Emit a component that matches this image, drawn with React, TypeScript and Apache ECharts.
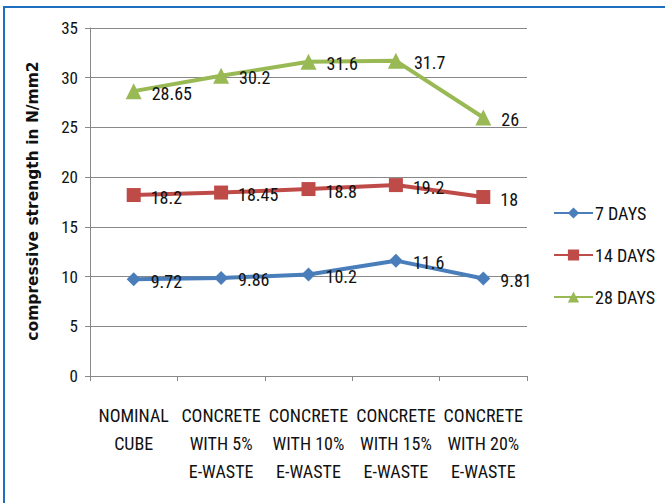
import React, { useEffect, useRef } from "react";
import * as echarts from "echarts";

const categories = [
  "NOMINAL\nCUBE",
  "CONCRETE\nWITH 5%\nE-WASTE",
  "CONCRETE\nWITH 10%\nE-WASTE",
  "CONCRETE\nWITH 15%\nE-WASTE",
  "CONCRETE\nWITH 20%\nE-WASTE",
];
const days7 = [9.72, 9.86, 10.2, 11.6, 9.81];
const days14 = [18.2, 18.45, 18.8, 19.2, 18];
const days28 = [28.65, 30.2, 31.6, 31.7, 26];
const yTicks = { min: 0, max: 35, interval: 5 };

const FONT = "'Liberation Sans Narrow', 'Roboto Condensed', 'Arial Narrow', sans-serif";

export default function App() {
  const ref = useRef<HTMLDivElement>(null);
  useEffect(() => {
    if (!ref.current) return;
    const chart = echarts.init(ref.current, undefined, { renderer: "svg" });
    const mk = (name: string, data: number[], color: string, symbol: string, size: number) => ({
      name,
      type: "line",
      data,
      symbol,
      symbolSize: size,
      lineStyle: { color, width: 4 },
      itemStyle: { color },
      label: {
        show: true,
        position: "right",
        distance: 10,
        color: "#111",
        fontFamily: FONT,
        fontSize: 18,
        offset: [0, 2],
      },
    });
    chart.setOption({
      animation: false,
      backgroundColor: "#fff",
      textStyle: { fontFamily: FONT },
      grid: { left: 90, right: 138, top: 28, bottom: 127, containLabel: false },
      legend: {
        orient: "vertical",
        left: 553,
        top: 204,
        padding: 0,
        itemWidth: 39,
        itemHeight: 14,
        itemGap: 24,
        textStyle: { fontFamily: FONT, fontSize: 18, color: "#111", padding: [0, 0, 0, -3] },
        data: ["7 DAYS", "14 DAYS", "28 DAYS"],
      },
      xAxis: {
        type: "category",
        data: categories,
        boundaryGap: true,
        axisLine: { lineStyle: { color: "#888", width: 1 } },
        axisTick: { show: true, length: 5, lineStyle: { color: "#888" } },
        axisLabel: {
          interval: 0,
          margin: 25,
          color: "#111",
          fontFamily: FONT,
          fontSize: 18,
          lineHeight: 28,
          align: "center",
        },
        splitLine: { show: false },
      },
      yAxis: {
        type: "value",
        min: yTicks.min,
        max: yTicks.max,
        interval: yTicks.interval,
        axisLine: { show: true, lineStyle: { color: "#888", width: 1 } },
        axisTick: { show: true, length: 5, lineStyle: { color: "#888" } },
        axisLabel: { color: "#111", fontFamily: FONT, fontSize: 17, margin: 12 },
        splitLine: { show: true, lineStyle: { color: "#888", width: 1 } },
      },
      graphic: [
        {
          type: "rect",
          shape: { x: 4, y: 7, width: 700, height: 600 },
          style: { fill: "none", stroke: "#1f6fc0", lineWidth: 2 },
          silent: true,
        },
        {
          type: "text",
          x: 33,
          y: 201,
          rotation: Math.PI / 2,
          style: {
            text: "compressive strength in N/mm2",
            fontFamily: "'DejaVu Sans', sans-serif",
            fontWeight: "bold",
            fontSize: 15.5,
            fill: "#111",
            align: "center",
            verticalAlign: "middle",
          },
        },
      ],
      series: [
        mk("7 DAYS", days7, "#4a7ebb", "diamond", 14),
        mk("14 DAYS", days14, "#be4b48", "rect", 14),
        mk("28 DAYS", days28, "#98b954", "triangle", 16),
      ],
    });
    return () => chart.dispose();
  }, []);
  return (
    <div
      ref={ref}
      style={{ position: "fixed", left: 0, top: 0, width: 665, height: 503, background: "#fff" }}
    />
  );
}
